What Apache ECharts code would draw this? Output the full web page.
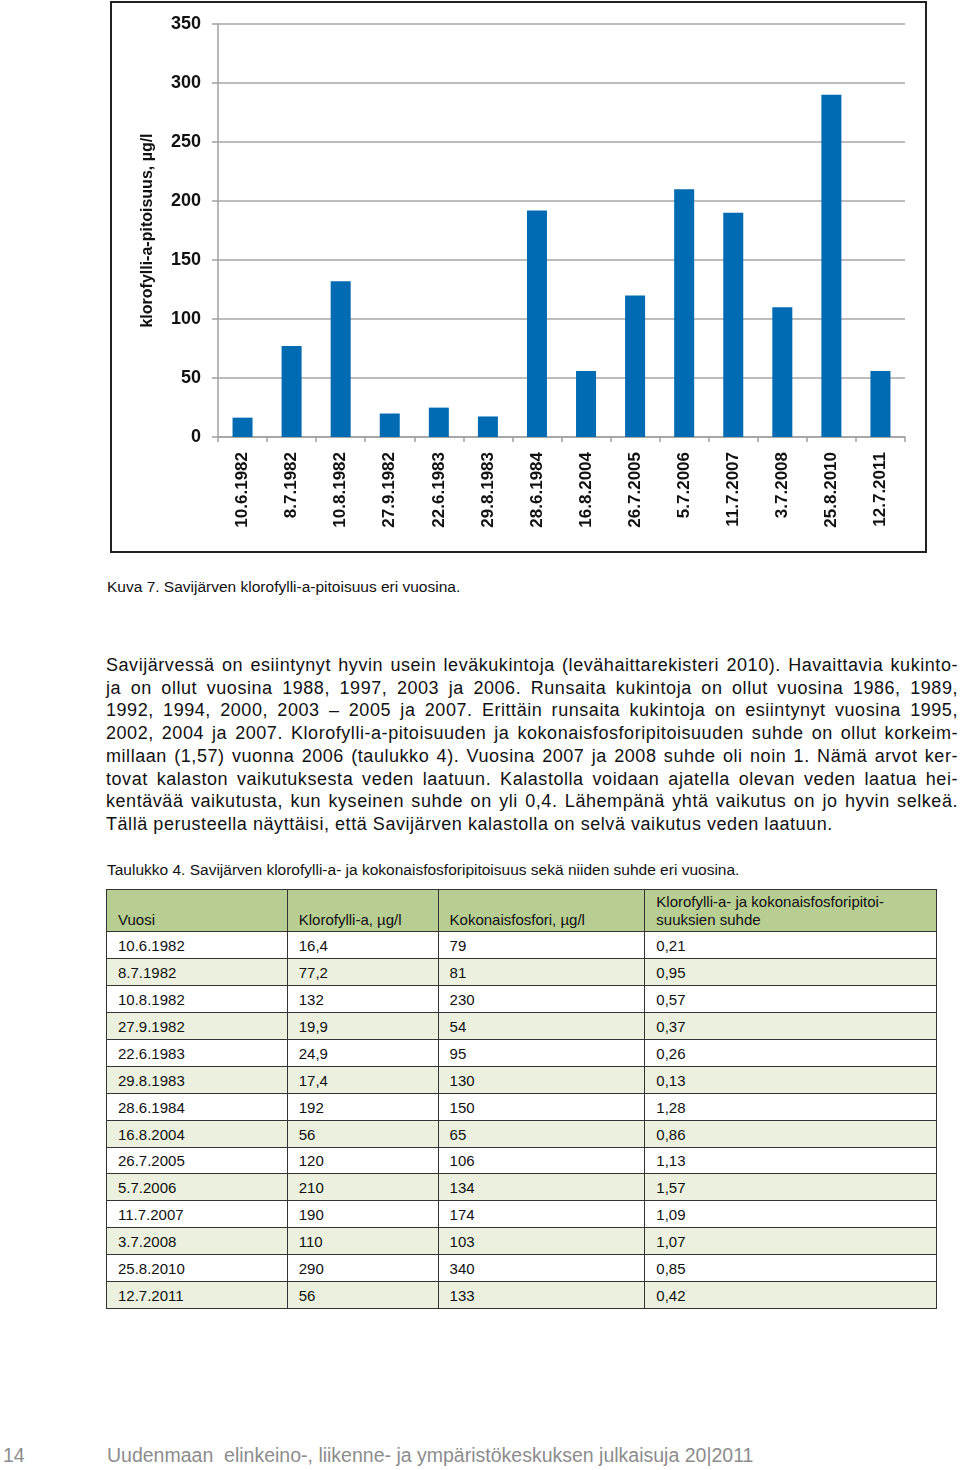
<!DOCTYPE html>
<html>
<head>
<meta charset="utf-8">
<script src="https://cdn.jsdelivr.net/npm/echarts@6/dist/echarts.min.js"></script>
<style>
  html, body { margin: 0; padding: 0; background: #fff; }
  body { width: 960px; height: 1470px; position: relative; font-family: "Liberation Sans", Arial, sans-serif; color: #111; }
  #chartBox { position: absolute; left: 110px; top: 1px; width: 813px; height: 548px; border: 2px solid #222; }
  #chart { width: 813px; height: 548px; }
  .cap { position: absolute; left: 107px; font-size: 15.5px; white-space: nowrap; }
  #para { position: absolute; left: 106px; top: 654px; width: 852px; font-size: 18px; letter-spacing: 0.55px; line-height: 22.7px; }
  #para div { text-align: justify; text-align-last: justify; white-space: nowrap; }
  #para div.last { text-align-last: left; }
  #tbl { position: absolute; left: 106px; top: 889px; width: 831px; border-collapse: collapse; font-size: 15px; }
  #tbl td { border: 1.5px solid #333; padding: 0 0 4px 11px; height: 21.95px; vertical-align: bottom; line-height: 16px; }
  #tbl tr.hd td { background: #b7cd91; height: 39px; padding-bottom: 2px; line-height: 18px; }
  #tbl tr.alt td { background: #ebf1de; }
  .foot { position: absolute; top: 1444px; font-size: 19.5px; color: #8c8c8c; white-space: nowrap; }
</style>
</head>
<body>
<div id="chartBox"><div id="chart"></div></div>
<div class="cap" style="top:578px">Kuva 7. Savijärven klorofylli-a-pitoisuus eri vuosina.</div>
<div id="para"></div>
<div class="cap" style="top:861px">Taulukko 4. Savijärven klorofylli-a- ja kokonaisfosforipitoisuus sekä niiden suhde eri vuosina.</div>
<table id="tbl"></table>
<div class="foot" style="left:3px">14</div>
<div class="foot" style="left:107px">Uudenmaan&nbsp; elinkeino-, liikenne- ja ympäristökeskuksen julkaisuja 20|2011</div>
<script>
// ---- data ----
const dates = ["10.6.1982","8.7.1982","10.8.1982","27.9.1982","22.6.1983","29.8.1983","28.6.1984","16.8.2004","26.7.2005","5.7.2006","11.7.2007","3.7.2008","25.8.2010","12.7.2011"];
const chlorophyll = [16.4, 77.2, 132, 19.9, 24.9, 17.4, 192, 56, 120, 210, 190, 110, 290, 56];
const phosphorus = [79, 81, 230, 54, 95, 130, 150, 65, 106, 134, 174, 103, 340, 133];
const ratio = [0.21, 0.95, 0.57, 0.37, 0.26, 0.13, 1.28, 0.86, 1.13, 1.57, 1.09, 1.07, 0.85, 0.42];
const yTicks = [0, 50, 100, 150, 200, 250, 300, 350];
const tableHeaders = ["Vuosi", "Klorofylli-a, µg/l", "Kokonaisfosfori, µg/l", "Klorofylli-a- ja kokonaisfosforipitoi-<br>suuksien suhde"];
const paraLines = [
  "Savijärvessä on esiintynyt hyvin usein leväkukintoja (levähaittarekisteri 2010). Havaittavia kukinto-",
  "ja on ollut vuosina 1988, 1997, 2003 ja 2006. Runsaita kukintoja on ollut vuosina 1986, 1989,",
  "1992, 1994, 2000, 2003 – 2005 ja 2007. Erittäin runsaita kukintoja on esiintynyt vuosina 1995,",
  "2002, 2004 ja 2007. Klorofylli-a-pitoisuuden ja kokonaisfosforipitoisuuden suhde on ollut korkeim-",
  "millaan (1,57) vuonna 2006 (taulukko 4). Vuosina 2007 ja 2008 suhde oli noin 1. Nämä arvot ker-",
  "tovat kalaston vaikutuksesta veden laatuun. Kalastolla voidaan ajatella olevan veden laatua hei-",
  "kentävää vaikutusta, kun kyseinen suhde on yli 0,4. Lähempänä yhtä vaikutus on jo hyvin selkeä.",
  "Tällä perusteella näyttäisi, että Savijärven kalastolla on selvä vaikutus veden laatuun."
];

// ---- paragraph ----
const para = document.getElementById('para');
paraLines.forEach((l, i) => {
  const d = document.createElement('div');
  d.textContent = l;
  if (i === paraLines.length - 1) d.className = 'last';
  para.appendChild(d);
});

// ---- table ----
const fmt = v => String(v).replace('.', ',');
const tbl = document.getElementById('tbl');
let html = '<colgroup><col style="width:181px"><col style="width:151px"><col style="width:207px"><col style="width:292px"></colgroup>';
html += '<tr class="hd">' + tableHeaders.map(h => '<td>' + h + '</td>').join('') + '</tr>';
dates.forEach((d, i) => {
  html += '<tr' + (i % 2 === 1 ? ' class="alt"' : '') + '><td>' + d + '</td><td>' + fmt(chlorophyll[i]) + '</td><td>' + fmt(phosphorus[i]) + '</td><td>' + fmt(ratio[i].toFixed(2)) + '</td></tr>';
});
tbl.innerHTML = html;

// ---- chart ----
const chart = echarts.init(document.getElementById('chart'), null, { renderer: 'canvas' });
chart.setOption({
  animation: false,
  grid: { left: 106, right: 20, top: 21, bottom: 114 },
  xAxis: {
    type: 'category',
    data: dates,
    axisLine: { lineStyle: { color: '#a0a0a0', width: 1.5 } },
    axisTick: { show: true, length: 5, lineStyle: { color: '#a0a0a0', width: 1.5 } },
    axisLabel: { rotate: 90, margin: 15, color: '#111', fontSize: 17, fontWeight: 'bold', fontFamily: 'Liberation Sans, Arial, sans-serif', interval: 0 }
  },
  yAxis: {
    type: 'value',
    min: 0, max: 350, interval: 50,
    name: 'klorofylli-a-pitoisuus, µg/l',
    nameLocation: 'middle',
    nameRotate: 90,
    nameGap: 62,
    nameTextStyle: { color: '#111', fontSize: 16, fontWeight: 'bold', fontFamily: 'Liberation Sans, Arial, sans-serif' },
    axisLine: { show: true, lineStyle: { color: '#a0a0a0', width: 1.5 } },
    axisTick: { show: true, length: 6, lineStyle: { color: '#a0a0a0', width: 1.5 } },
    axisLabel: { color: '#111', fontSize: 18, fontWeight: 'bold', margin: 17, fontFamily: 'Liberation Sans, Arial, sans-serif',
      formatter: v => yTicks.includes(v) ? String(v) : '' },
    splitLine: { lineStyle: { color: '#a6a6a6', width: 1.5 } }
  },
  series: [{
    type: 'bar',
    data: chlorophyll,
    barWidth: 20,
    itemStyle: { color: '#006ab3' }
  }]
});
</script>
</body>
</html>
